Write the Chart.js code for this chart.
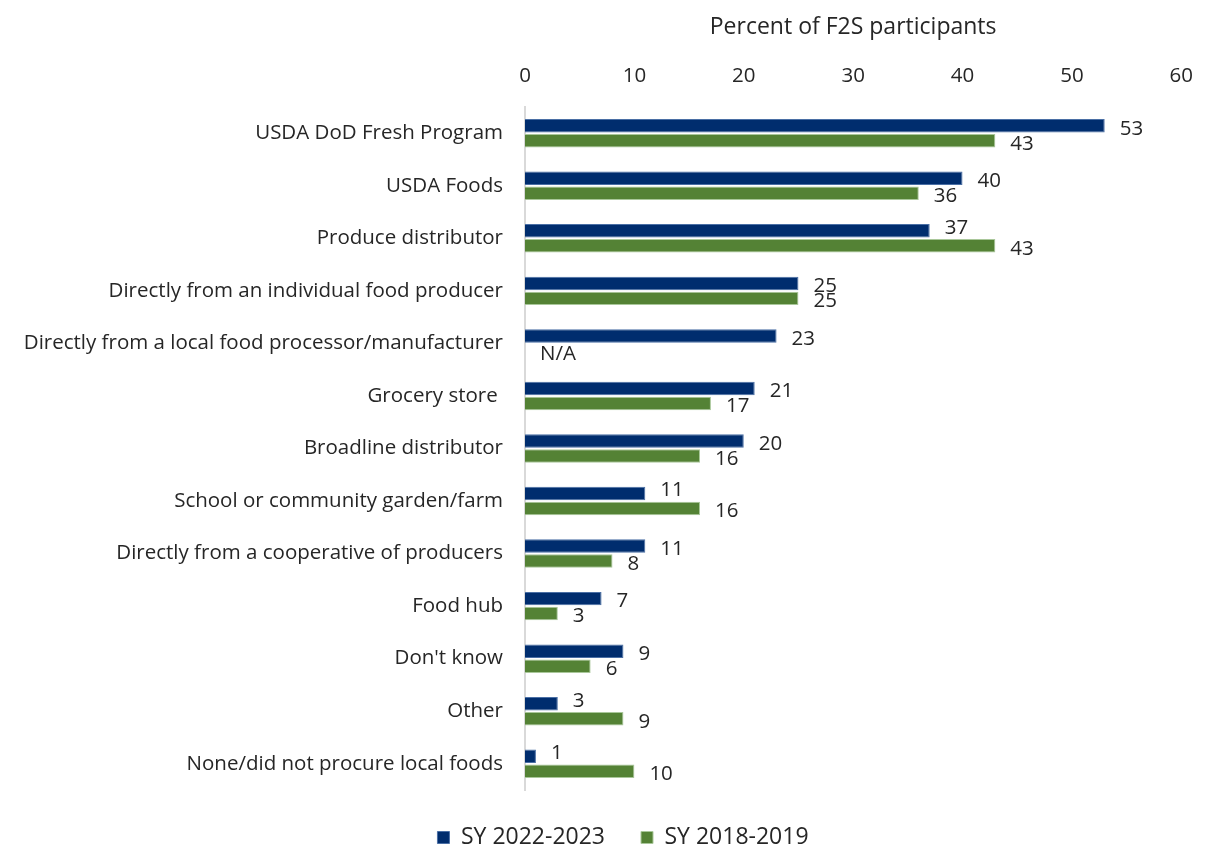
<!DOCTYPE html>
<html lang="en">
<head>
  <meta charset="UTF-8">
  <title>F2S local food sources</title>
  <script src="https://cdn.jsdelivr.net/npm/chart.js"></script>
  <style>
    body {
      margin: 0;
      background: #fff;
    }
    #wrap {
      width: 1212px;
      height: 850px;
    }
  </style>
</head>
<body>
  <div id="wrap"><canvas id="chartSources" width="1212" height="850"></canvas></div>

  <script>
    // data
    const categories = [
      'USDA DoD Fresh Program',
      'USDA Foods',
      'Produce distributor',
      'Directly from an individual food producer',
      'Directly from a local food processor/manufacturer',
      'Grocery store ',
      'Broadline distributor',
      'School or community garden/farm',
      'Directly from a cooperative of producers',
      'Food hub',
      "Don't know",
      'Other',
      'None/did not procure local foods'
    ];
    const sy2022 = [53, 40, 37, 25, 23, 21, 20, 11, 11, 7, 9, 3, 1];
    const sy2018 = [43, 36, 43, 25, null, 17, 16, 16, 8, 3, 6, 9, 10];
    const xTicks = [0, 10, 20, 30, 40, 50, 60];

    const FONT = '"Open Sans", sans-serif';
    const SIZE = 20.5;     // category, tick and bar labels
    const BIG = 23;        // axis title and legend
    const TEXT = '#262626';

    // labels at the end of each bar (N/A where there is no value)
    const barLabels = {
      id: 'barLabels',
      afterDatasetsDraw(chart) {
        const ctx = chart.ctx;
        const sets = chart.data.datasets;
        ctx.save();
        ctx.font = SIZE + 'px ' + FONT;
        ctx.fillStyle = TEXT;
        ctx.textAlign = 'left';
        ctx.textBaseline = 'middle';
        sets.forEach((ds, i) => {
          chart.getDatasetMeta(i).data.forEach((bar, j) => {
            const v = ds.data[j];
            const other = sets[1 - i].data[j];
            const x = v == null ? chart.scales.x.getPixelForValue(0) : bar.x;
            let dy = 3;
            // lift the upper label when the lower bar runs past it
            if (i === 0 && other != null && other > v) dy = -3;
            ctx.fillText(v == null ? 'N/A' : String(v), x + 15, bar.y + dy);
          });
        });
        ctx.restore();
      }
    };

    // legend sits a little right of the canvas centre in the original
    const legendShift = {
      id: 'legendShift',
      afterLayout(chart) {
        chart.legend.left += 22;
        chart.legend.right += 22;
      }
    };

    new Chart(document.getElementById('chartSources'), {
      type: 'bar',
      data: {
        labels: categories,
        datasets: [{
          label: 'SY 2022-2023',
          data: sy2022,
          backgroundColor: '#002D6E',
          borderColor: '#4A6FA5',
          borderWidth: 1,
          categoryPercentage: 0.57,
          barPercentage: 0.9
        }, {
          label: 'SY 2018-2019',
          data: sy2018,
          backgroundColor: '#548235',
          borderColor: '#A9C79A',
          borderWidth: 1,
          categoryPercentage: 0.57,
          barPercentage: 0.9
        }]
      },
      options: {
        indexAxis: 'y',
        responsive: false,
        animation: false,
        layout: { padding: { left: 13, right: 23, top: 0, bottom: 0 } },
        plugins: {
          tooltip: { enabled: false },
          legend: {
            position: 'bottom',
            maxHeight: 60,
            labels: {
              font: { family: FONT, size: BIG },
              color: TEXT,
              boxWidth: 12,
              boxHeight: 12,
              padding: 36
            }
          }
        },
        scales: {
          x: {
            position: 'top',
            min: 0,
            max: 60,
            afterBuildTicks(scale) {
              scale.ticks = xTicks.map(v => ({ value: v }));
            },
            afterFit(scale) { scale.height = 107; },
            grid: { display: false, drawTicks: false },
            border: { display: false },
            ticks: {
              font: { family: FONT, size: SIZE },
              color: TEXT,
              padding: 19
            },
            title: {
              display: true,
              text: 'Percent of F2S participants',
              font: { family: FONT, size: BIG },
              color: TEXT,
              padding: { top: 14, bottom: 0 }
            }
          },
          y: {
            afterFit(scale) { scale.width = 512; },
            grid: { display: false, drawTicks: false },
            border: { display: true, color: '#d9d9d9', width: 2 },
            ticks: {
              font: { family: FONT, size: SIZE },
              color: TEXT,
              padding: 22
            }
          }
        }
      },
      plugins: [barLabels, legendShift]
    });
  </script>
</body>
</html>
